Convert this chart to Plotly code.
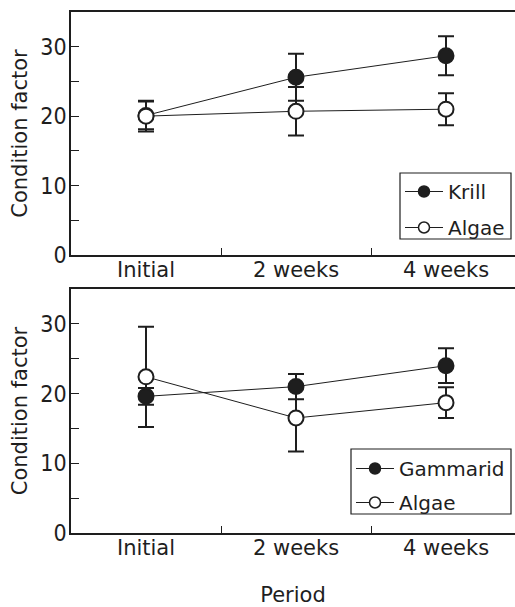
import plotly.graph_objects as go

periods = ["Initial", "2 weeks", "4 weeks"]

# Top panel: Krill vs Algae
krill_mean = [20.1, 25.6, 28.7]
krill_err = [2.0, 3.4, 2.8]
algae_top_mean = [20.0, 20.7, 21.0]
algae_top_err = [2.2, 3.5, 2.3]

# Bottom panel: Gammarid vs Algae
gammarid_mean = [19.6, 21.0, 24.0]
gammarid_err = [1.2, 1.8, 2.5]
algae_bot_mean = [22.4, 16.5, 18.7]
algae_bot_err = [7.2, 4.8, 2.2]

y_ticks = [0, 10, 20, 30]
y_minor = [5, 15, 25]

INK = "#1e1e1e"
FONT = "DejaVu Sans"
NARROW = "Liberation Sans Narrow, DejaVu Sans Condensed, Roboto Condensed, Liberation Sans"
FS = 21

def series(name, x, y, err, filled, xa, ya):
    return go.Scatter(
        x=x, y=y, name=name, mode="lines+markers",
        xaxis=xa, yaxis=ya, showlegend=False,
        line=dict(color=INK, width=1),
        marker=dict(symbol="circle", size=15,
                    color=INK if filled else "white",
                    line=dict(color=INK, width=2)),
        error_y=dict(type="data", array=err, visible=True,
                     color=INK, thickness=2, width=8),
    )

def legend_entry(name, filled, xa, ya, legend, rank):
    # legend-only key (no data points)
    return go.Scatter(
        x=[None], y=[None], name=name, mode="lines+markers",
        xaxis=xa, yaxis=ya, legend=legend, legendrank=rank,
        legendgroup=name + legend, showlegend=True,
        line=dict(color=INK, width=1.2),
        marker=dict(symbol="circle", size=11,
                    color=INK if filled else "white",
                    line=dict(color=INK, width=1.5)),
    )

fig = go.Figure()
fig.add_trace(series("Krill", periods, krill_mean, krill_err, True, "x", "y"))
fig.add_trace(series("Algae", periods, algae_top_mean, algae_top_err, False, "x", "y"))
fig.add_trace(series("Algae", periods, algae_bot_mean, algae_bot_err, False, "x2", "y2"))
fig.add_trace(series("Gammarid", periods, gammarid_mean, gammarid_err, True, "x2", "y2"))
fig.add_trace(legend_entry("Krill", True, "x", "y", "legend", 1))
fig.add_trace(legend_entry("Algae", False, "x", "y", "legend", 2))
fig.add_trace(legend_entry("Gammarid", True, "x2", "y2", "legend2", 1))
fig.add_trace(legend_entry("Algae", False, "x2", "y2", "legend2", 2))

W, H = 515, 607
px = lambda v: v / W
py = lambda v: (H - v) / H
x_dom = [px(71), 1]
top_dom = [py(255), py(12)]
bot_dom = [py(533), py(289)]

def xaxis(anchor, title=None):
    d = dict(domain=x_dom, anchor=anchor, type="category",
             categoryorder="array", categoryarray=periods,
             range=[-0.5, 2.46], tickson="boundaries",
             ticks="inside", ticklen=7, tickwidth=1.2, tickcolor=INK,
             showline=True, linecolor=INK, linewidth=1.5, mirror=True,
             showgrid=False, zeroline=False, automargin=False,
             ticklabelstandoff=-5,
             tickfont=dict(family=FONT, size=FS, color=INK))
    if title:
        d["title"] = dict(text=title, font=dict(family=FONT, size=FS, color=INK), standoff=31)
    return d

def yaxis(anchor, dom):
    return dict(domain=dom, anchor=anchor, range=[0, 35],
                tickmode="array", tickvals=y_ticks,
                ticks="inside", ticklen=8, tickwidth=1.2, tickcolor=INK,
                minor=dict(tickmode="array", tickvals=y_minor, ticks="inside",
                           ticklen=8, tickwidth=1.2, tickcolor=INK, showgrid=False),
                showline=True, linecolor=INK, linewidth=1.5,
                showgrid=False, zeroline=False, automargin=False,
                ticklabelstandoff=-2,
                tickfont=dict(family=NARROW, size=23, color=INK),
                title=dict(text="Condition factor", standoff=7,
                           font=dict(family=FONT, size=FS, color=INK)))

legend_common = dict(xanchor="left", yanchor="top", bgcolor="rgba(0,0,0,0)",
                     borderwidth=0,
                     font=dict(family=FONT, size=20, color=INK),
                     traceorder="grouped", itemwidth=38)

box = dict(type="rect", xref="paper", yref="paper",
           line=dict(color=INK, width=1.2), fillcolor="white", layer="above")

fig.update_layout(
    width=W, height=H, autosize=False,
    margin=dict(l=0, r=0, t=0, b=0, autoexpand=False),
    paper_bgcolor="white", plot_bgcolor="white",
    font=dict(family=FONT, size=FS, color=INK),
    xaxis=xaxis("y"), yaxis=yaxis("x", top_dom),
    xaxis2=xaxis("y2", "Period"), yaxis2=yaxis("x2", bot_dom),
    legend=dict(x=px(400), y=py(172), tracegroupgap=7, **legend_common),
    legend2=dict(x=px(351), y=py(449), tracegroupgap=5, **legend_common),
    showlegend=True,
    shapes=[
        dict(box, x0=px(400), x1=px(511), y0=py(239), y1=py(173)),
        dict(box, x0=px(351), x1=px(511), y0=py(514), y1=py(449)),
    ],
)

fig.write_html("out.html", config={"displayModeBar": False},
               post_script="document.body.style.margin='0px';")
